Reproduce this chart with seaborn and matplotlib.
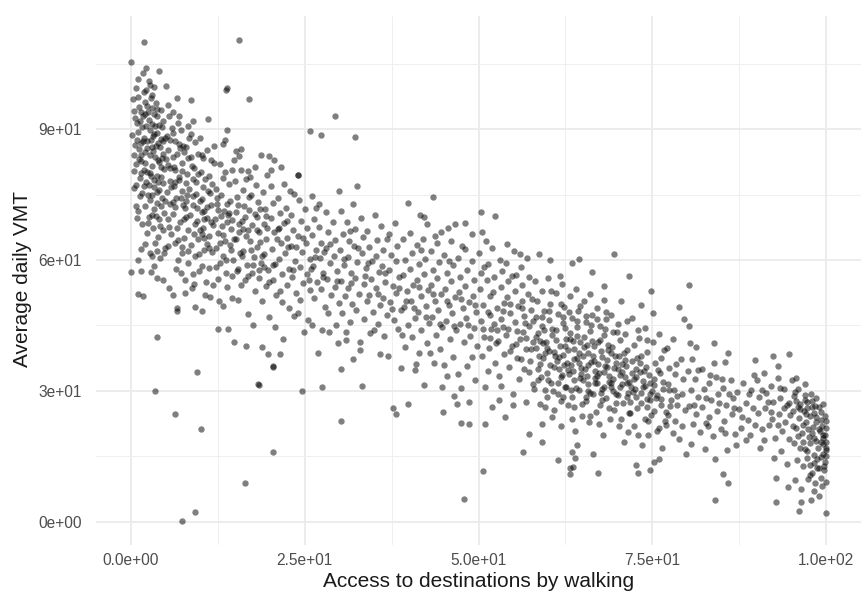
import matplotlib
matplotlib.use("Agg")
import matplotlib.pyplot as plt
import seaborn as sns
import pandas as pd

# ---- data: (access to destinations by walking, average daily VMT) ----
pts_x00_05 = [
(0.0,105.3),(1.9,109.9),(0.3,96.8),(0.5,94.1),(0.6,92.5),(0.2,88.7),(0.7,99.3),(0.8,77.2),(0.5,76.4),(0.1,57.2),
(0.6,86.3),(1.0,101.5),(1.1,97.4),(1.2,95.0),(1.3,91.8),(1.1,89.4),(1.4,86.7),(1.2,83.2),(1.5,79.9),(1.3,74.6),
(1.0,71.3),(1.6,68.2),(1.4,62.5),(1.8,51.8),(1.7,102.9),(1.9,98.6),(2.0,96.1),(2.1,93.4),(2.2,90.7),(1.9,88.0),
(2.3,85.6),(2.0,82.3),(2.4,80.1),(2.2,77.8),(2.5,75.0),(2.1,72.4),(2.6,69.8),(2.3,66.1),(2.7,61.7),(2.9,57.2),
(2.8,100.2),(2.9,97.2),(3.0,94.8),(3.1,91.1),(2.9,87.5),(3.2,84.9),(3.0,81.6),(3.3,78.4),(3.1,74.9),(3.4,71.6),
(3.2,67.3),(3.5,63.9),(3.3,58.6),(3.6,96.0),(3.7,92.9),(3.8,89.2),(3.6,86.1),(3.9,83.0),(3.7,79.3),(4.0,76.1),
(3.8,73.0),(4.1,69.5),(3.9,65.2),(4.2,60.4),(3.7,42.4),(3.5,29.9),(4.4,94.3),(4.5,90.5),(4.3,87.7),(4.6,84.4),
(4.4,81.2),(4.7,77.6),(4.5,74.3),(4.8,70.8),(4.6,66.9),(4.9,62.7),(4.6,55.3),(0.7,82.0),(1.5,84.1),(2.4,87.3),
(3.4,88.8),(4.2,85.9),(1.8,93.0),(2.6,92.1),(3.5,83.6),(4.9,88.0),(0.4,80.5),(1.6,75.3),(2.8,73.8),(3.9,77.9),
(4.8,80.9),(2.2,104.0),(2.6,101.0),(3.3,99.6),(4.1,103.3),(1.3,78.8),(2.9,79.2),(3.6,70.1),(4.3,72.4),(2.0,63.6),
(3.0,60.9),(3.8,62.0),(1.1,60.0),(2.7,84.0),(3.8,94.6),(4.6,91.9),(1.0,52.1),(1.4,57.5),(0.9,69.7),(0.8,72.3),
(2.5,68.5),(4.8,61.6),(3.8,55.9),(1.6,90.4),(2.5,94.0),(3.2,88.3),(2.1,84.7),(4.0,91.0),(1.4,82.6),(3.4,76.7),
(2.7,79.9),(4.5,83.3),(1.9,77.0),(0.9,87.6),(3.1,85.8),
]
pts_x05_12 = [
(5.1,99.9),(6.7,97.1),(8.6,96.7),(5.5,92.9),(6.8,91.4),(8.3,90.6),(8.7,88.9),(11.1,92.2),(10.4,83.4),(11.6,83.0),
(11.9,82.3),(10.2,84.1),(11.9,86.2),(5.2,88.4),(5.4,85.1),(5.3,81.7),(5.6,78.2),(5.2,75.6),(5.7,72.9),(5.4,69.4),
(5.8,66.0),(5.5,53.6),(6.0,52.0),(6.6,49.0),(6.7,48.3),(7.2,57.0),(7.8,52.4),(8.8,53.5),(9.3,49.2),(10.3,48.4),
(10.7,52.0),(6.1,94.0),(6.3,87.2),(6.0,83.5),(6.4,80.6),(6.2,77.0),(6.5,74.1),(6.1,70.5),(6.6,67.3),(6.3,63.8),
(6.8,59.9),(7.0,93.1),(7.2,89.8),(7.1,85.7),(7.4,82.2),(7.0,79.0),(7.3,75.7),(7.5,72.6),(7.1,68.7),(7.6,65.1),
(7.3,61.6),(7.8,55.4),(8.0,86.0),(8.2,83.4),(8.1,79.8),(8.4,76.3),(8.0,73.5),(8.5,70.2),(8.2,66.9),(8.6,63.4),
(8.3,59.2),(8.9,56.8),(9.0,91.8),(9.2,87.1),(9.1,81.0),(9.4,77.9),(9.0,74.7),(9.5,71.9),(9.2,68.3),(9.6,64.7),
(9.3,60.8),(9.8,57.5),(10.0,88.0),(10.1,80.2),(10.4,76.8),(10.0,73.6),(10.5,69.5),(10.2,66.0),(10.6,62.3),(10.3,58.7),
(10.8,55.0),(11.0,85.3),(11.2,79.2),(11.4,75.4),(11.0,72.1),(11.5,68.8),(11.2,65.6),(11.7,61.9),(11.3,58.1),(11.8,54.2),
(5.9,90.2),(6.9,86.5),(7.7,84.8),(8.8,81.6),(9.7,84.3),(10.7,78.5),(11.6,72.6),(5.8,76.8),(7.9,69.9),(9.9,66.8),
(10.9,63.7),(7.4,63.0),(6.5,58.0),(9.1,54.4),(11.4,51.6),(5.3,63.2),(8.4,87.9),(10.6,71.2),(5.6,81.0),(6.4,77.8),
(7.2,74.3),(8.9,78.6),(9.5,69.0),(10.4,67.4),(6.0,73.2),(7.8,71.8),
]
pts_outliers = [
(6.4,24.7),(7.3,0.2),(9.2,2.3),(10.1,21.2),(9.5,34.4),(16.4,8.9),(20.5,15.9),(18.3,31.5),(18.5,31.3),(24.6,30.0),
(27.5,31.0),(30.2,23.1),(20.5,35.4),(30.2,35.0),(13.7,99.0),(13.9,99.3),(17.0,96.9),(29.4,92.9),(25.8,89.5),(27.3,88.6),
(32.2,88.1),(15.5,110.4),(30.0,75.7),(24.0,79.4),(32.5,77.0),(43.5,74.4),(39.8,73.0),
]
pts_x12_20 = [
(13.2,86.6),(13.5,87.6),(13.8,89.9),(15.2,84.9),(15.9,85.4),(15.6,83.8),(18.7,84.1),(19.9,83.8),(15.9,80.7),(16.9,80.5),
(13.5,80.1),(14.5,80.7),(13.3,78.8),(12.6,44.1),(14.0,44.3),(13.3,49.4),(14.6,51.4),(15.4,50.9),(14.9,41.1),(16.6,40.3),
(18.8,40.1),(19.8,38.4),(12.2,76.3),(12.4,72.8),(12.1,69.5),(12.5,66.2),(12.3,62.7),(12.8,59.3),(12.6,55.7),(13.0,75.0),
(13.4,71.2),(13.1,67.9),(13.6,64.4),(13.2,60.9),(13.7,57.1),(13.9,53.8),(14.1,77.4),(14.3,73.6),(14.0,70.3),(14.4,67.0),
(14.2,63.4),(14.7,60.0),(14.5,56.3),(15.0,78.1),(15.3,74.5),(15.1,71.1),(15.5,68.2),(15.2,64.7),(15.7,61.5),(15.4,58.0),
(15.8,54.2),(16.1,76.0),(16.3,72.3),(16.0,69.0),(16.5,65.6),(16.2,62.1),(16.7,58.8),(16.4,55.5),(16.8,47.6),(17.1,79.0),
(17.3,74.9),(17.0,71.5),(17.5,68.0),(17.2,64.3),(17.7,60.6),(17.4,57.0),(17.9,52.8),(18.0,77.2),(18.3,73.3),(18.1,69.9),
(18.5,66.5),(18.2,62.9),(18.7,59.4),(18.4,55.8),(18.9,50.5),(19.0,75.6),(19.3,71.7),(19.1,68.3),(19.5,64.8),(19.2,61.4),
(19.7,57.7),(19.4,54.1),(19.9,46.9),(12.9,82.1),(14.8,82.9),(16.6,78.5),(17.8,81.3),(19.6,79.5),(13.8,68.6),(16.9,66.8),
(18.6,64.2),(12.7,50.7),(17.6,45.2),
]
pts_x00_20_extra = [
(0.9,91.3),(1.7,87.2),(2.3,95.4),(2.8,89.9),(3.4,93.5),(3.9,86.8),(4.4,79.0),(5.0,83.1),(5.7,87.6),(6.2,81.3),
(6.9,78.4),(7.5,86.1),(8.1,74.9),(8.9,72.5),(9.6,79.6),(10.3,70.9),(11.1,75.8),(11.8,68.1),(12.5,71.4),(13.3,65.7),
(14.1,70.8),(14.8,64.9),(15.6,66.3),(16.4,69.8),(17.3,62.4),(18.1,66.9),(18.9,61.0),(19.6,67.3),(1.2,85.5),(1.9,80.7),
(2.6,77.1),(3.1,70.3),(3.7,75.6),(4.2,67.8),(4.9,73.6),(5.5,67.5),(6.3,72.2),(6.8,64.6),(7.6,69.4),(8.3,62.0),
(9.1,66.0),(9.8,61.3),(10.6,65.1),(11.3,62.8),(12.2,58.3),(12.9,63.9),(13.7,60.1),(14.4,62.2),(15.3,57.4),(16.0,60.8),
(16.8,56.4),(17.6,58.9),(18.4,57.7),(19.2,58.3),(19.9,55.0),(0.5,84.0),(1.5,93.9),(2.2,99.0),(3.0,97.8),(3.5,90.7),
(4.0,82.5),(4.7,87.3),(5.4,95.6),(6.1,89.1),(6.6,84.2),(7.3,80.5),(8.0,77.7),(8.7,83.7),(9.4,75.2),(10.2,74.0),
(11.0,69.6),(11.7,77.3),(12.4,74.3),(13.0,70.0),(13.9,72.9),(14.6,69.2),(15.4,72.7),(16.2,67.0),(17.0,74.4),(17.8,70.5),
(18.6,71.7),(19.4,70.0),
]
pts_x20_30 = [
(20.6,83.0),(21.6,81.3),(20.2,80.7),(24.0,79.4),(23.5,75.2),(21.5,38.4),(20.5,35.7),(20.1,76.9),(20.4,73.0),(20.2,69.6),
(20.6,66.3),(20.3,62.6),(20.8,59.1),(20.5,55.4),(20.9,51.9),(20.7,44.6),(21.1,74.2),(21.4,70.7),(21.2,67.2),(21.6,63.9),
(21.3,60.3),(21.8,56.8),(21.5,53.0),(21.9,42.0),(22.0,77.5),(22.3,72.0),(22.1,68.5),(22.5,65.0),(22.2,61.5),(22.7,58.0),
(22.4,54.3),(22.8,49.0),(23.0,70.4),(23.3,66.8),(23.1,63.3),(23.6,59.8),(23.2,56.2),(23.8,52.4),(23.4,47.1),(24.2,73.8),
(24.5,68.9),(24.1,65.4),(24.6,61.9),(24.3,58.4),(24.8,54.7),(24.4,50.8),(24.9,43.5),(25.1,71.6),(25.4,67.4),(25.2,63.9),
(25.7,60.3),(25.3,56.9),(25.8,53.1),(25.5,46.3),(26.0,74.6),(26.3,69.3),(26.1,65.8),(26.6,62.2),(26.2,58.7),(26.8,55.0),
(26.4,51.2),(26.9,38.8),(27.1,67.6),(27.4,64.0),(27.2,60.5),(27.7,57.0),(27.3,53.3),(27.9,49.3),(27.5,44.0),(28.0,71.0),
(28.3,66.3),(28.1,62.8),(28.6,59.2),(28.2,55.7),(28.8,52.0),(28.4,47.8),(29.1,68.8),(29.4,64.6),(29.2,61.0),(29.7,57.5),
(29.3,53.9),(29.9,50.1),(29.5,45.2),(29.8,40.9),(21.0,64.8),(23.7,63.0),(25.9,58.0),(27.8,61.8),(22.9,75.7),(26.7,71.9),
]
pts_x30_40 = [
(30.2,71.3),(30.5,66.0),(30.1,62.4),(30.6,58.9),(30.3,55.2),(30.8,51.7),(30.4,47.9),(30.9,43.6),(31.1,68.7),(31.4,64.3),
(31.2,60.7),(31.7,57.1),(31.3,53.6),(31.8,49.9),(31.5,45.8),(31.9,37.2),(32.0,72.9),(32.3,67.1),(32.1,63.1),(32.6,59.5),
(32.2,55.9),(32.8,52.3),(32.4,48.5),(32.9,41.1),(33.2,31.1),(33.1,69.6),(33.4,65.3),(33.3,61.7),(33.8,58.1),(33.5,54.5),
(33.9,50.7),(33.6,46.4),(34.0,66.6),(34.3,62.9),(34.1,59.3),(34.6,55.7),(34.2,52.0),(34.8,48.1),(34.4,43.2),(35.1,70.2),
(35.4,64.5),(35.2,60.8),(35.7,57.2),(35.3,53.5),(35.9,49.6),(35.5,45.3),(35.8,38.5),(36.0,67.8),(36.3,62.2),(36.1,58.6),
(36.6,55.0),(36.2,51.3),(36.8,47.4),(36.4,42.6),(37.1,65.9),(37.4,61.2),(37.2,57.6),(37.7,54.0),(37.3,50.3),(37.9,46.3),
(37.7,26.0),(38.1,24.8),(38.0,68.4),(38.3,63.3),(38.1,59.7),(38.6,56.1),(38.2,52.4),(38.8,48.5),(38.4,44.1),(38.9,35.3),
(39.1,64.8),(39.4,60.1),(39.2,56.5),(39.7,52.9),(39.3,49.2),(39.8,45.2),(39.8,27.1),(39.5,40.0),
]
pts_x40_50 = [
(42.1,69.8),(42.6,68.2),(46.6,68.3),(45.6,67.3),(44.6,66.4),(48.1,68.4),(44.9,25.2),(46.9,27.1),(48.7,27.5),(47.5,22.7),
(48.7,22.4),(47.9,5.3),(40.1,66.1),(40.4,61.5),(40.2,57.9),(40.6,54.3),(40.3,50.6),(40.8,46.7),(40.5,42.3),(40.9,34.8),
(41.1,63.4),(41.4,59.0),(41.2,55.4),(41.7,51.8),(41.3,48.1),(41.8,44.0),(41.5,38.6),(42.0,64.7),(42.3,60.3),(42.1,56.7),
(42.8,53.1),(42.4,49.4),(42.9,45.5),(42.6,40.9),(42.2,31.4),(43.1,62.0),(43.4,57.8),(43.2,54.2),(43.7,50.6),(43.3,46.9),
(43.9,42.7),(43.6,36.4),(44.0,63.9),(44.3,59.5),(44.1,55.9),(44.6,52.3),(44.2,48.6),(44.8,44.6),(44.4,39.5),(45.1,61.2),
(45.4,57.0),(45.2,53.4),(45.7,49.8),(45.3,46.1),(45.9,42.0),(45.5,33.5),(46.0,64.3),(46.3,58.8),(46.1,55.2),(46.6,51.6),
(46.2,47.9),(46.8,43.9),(46.4,37.8),(47.1,60.5),(47.4,56.2),(47.2,52.6),(47.7,49.0),(47.3,45.3),(47.9,41.2),(47.5,30.6),
(48.0,62.6),(48.3,57.6),(48.1,54.0),(48.6,50.4),(48.2,46.7),(48.8,42.6),(48.4,35.6),(49.1,59.7),(49.4,55.3),(49.2,51.7),
(49.7,48.1),(49.3,44.4),(49.8,40.2),(49.5,32.4),(41.6,70.4),(43.8,65.5),(47.6,63.1),(49.0,66.0),(44.7,31.0),(46.5,28.8),
]
pts_x20_55_extra = [
(20.4,58.8),(21.3,67.4),(22.6,62.9),(23.3,57.6),(24.7,65.1),(25.6,55.4),(26.5,60.7),(27.6,56.2),(28.7,63.7),(29.6,55.1),
(30.7,60.2),(31.6,54.8),(32.7,62.8),(33.7,56.3),(34.7,59.8),(35.6,52.1),(36.5,57.0),(37.5,48.8),(38.5,53.6),(39.6,50.5),
(40.7,48.9),(41.5,53.7),(42.5,47.0),(43.5,52.2),(44.5,45.4),(45.5,50.7),(46.5,44.8),(47.5,51.1),(48.5,45.1),(49.5,49.6),
(50.6,44.3),(51.6,47.5),(52.5,40.9),(53.5,44.7),(54.6,39.2),(21.7,50.4),(24.0,47.8),(26.0,45.0),(28.5,43.6),(31.0,41.7),
(33.0,39.3),(35.0,43.9),(37.0,38.1),(39.0,42.8),(41.0,36.2),(43.0,38.8),(45.0,35.9),(47.0,33.8),(49.0,37.7),(51.3,34.6),
(53.3,31.2),(22.5,68.9),(27.0,72.9),(31.5,66.6),(36.8,64.9),(41.8,62.2),(45.8,59.7),(50.8,58.4),(54.8,56.3),
]
pts_x50_58 = [
(50.3,71.0),(52.4,70.0),(54.1,63.7),(56.0,61.3),(50.7,11.7),(56.4,16.1),(57.2,20.2),(50.1,61.7),(50.4,57.0),(50.2,53.4),
(50.6,49.8),(50.3,46.1),(50.8,42.3),(50.5,38.0),(50.9,30.9),(51.1,64.3),(51.4,59.0),(51.2,55.4),(51.7,51.8),(51.3,48.1),
(51.8,44.2),(51.5,39.9),(51.9,26.2),(52.0,62.8),(52.3,56.2),(52.1,52.6),(52.6,49.0),(52.2,45.3),(52.8,41.5),(52.4,36.3),
(53.1,60.0),(53.4,57.4),(53.2,53.8),(53.7,50.2),(53.3,46.5),(53.9,42.7),(53.6,38.5),(53.8,24.0),(54.0,59.2),(54.3,55.1),
(54.1,51.5),(54.6,47.9),(54.2,44.2),(54.8,40.4),(54.4,35.4),(54.9,29.4),(55.1,62.0),(55.4,56.6),(55.2,53.0),(55.7,49.4),
(55.3,45.7),(55.9,41.9),(55.5,37.6),(55.8,32.8),(56.1,58.5),(56.3,54.3),(56.2,50.7),(56.6,47.1),(56.4,43.4),(56.8,39.6),
(56.5,35.1),(56.9,27.5),(57.0,60.4),(57.3,56.0),(57.1,52.2),(57.6,48.6),(57.2,44.9),(57.8,41.1),(57.4,36.9),(57.9,31.6),
(50.5,66.5),(51.6,42.1),(52.7,44.0),(53.5,48.3),(54.5,50.0),(55.6,43.8),(56.7,45.6),(57.5,39.5),(52.9,33.5),(55.0,26.8),
(51.0,22.5),(53.0,28.0),
]
pts_x58_70 = [
(58.7,61.4),(60.3,60.1),(63.5,59.4),(64.5,60.3),(66.3,57.3),(61.7,56.3),(68.0,54.0),(69.5,61.4),(59.2,18.3),(61.5,14.2),
(63.1,10.9),(63.2,12.4),(63.6,12.6),(67.2,11.1),(63.4,16.0),(63.9,14.7),(64.1,17.6),(66.5,15.5),(59.2,22.4),
(58.1,55.2),(58.4,50.7),(58.2,46.9),(58.6,43.3),(58.3,39.8),(58.8,36.2),(58.5,32.5),(58.9,27.1),(59.1,53.0),(59.4,48.4),
(59.2,44.8),(59.7,41.2),(59.3,37.6),(59.8,34.0),(59.5,30.2),(60.0,55.8),(60.3,50.0),(60.1,46.3),(60.6,42.7),(60.2,39.1),
(60.8,35.5),(60.4,31.7),(60.9,25.6),(61.1,52.4),(61.4,47.6),(61.2,44.0),(61.7,40.4),(61.3,36.8),(61.8,33.2),(61.5,29.3),
(61.9,22.0),(62.0,54.6),(62.3,49.2),(62.1,45.5),(62.6,41.9),(62.2,38.3),(62.8,34.7),(62.4,31.0),(62.9,26.7),(63.1,51.7),
(63.4,46.8),(63.2,43.2),(63.7,39.6),(63.3,36.0),(63.8,32.4),(63.5,28.5),(63.9,20.8),(64.0,53.3),(64.3,48.3),(64.1,44.7),
(64.6,41.1),(64.2,37.5),(64.8,33.9),(64.4,30.2),(64.9,24.3),(65.1,50.5),(65.4,45.9),(65.2,42.3),(65.7,38.7),(65.3,35.1),
(65.8,31.5),(65.5,27.6),(65.9,22.9),(66.0,52.1),(66.3,47.4),(66.1,43.8),(66.6,40.2),(66.2,36.6),(66.8,33.0),(66.4,29.2),
(66.9,25.1),(67.1,49.1),(67.4,44.9),(67.2,41.3),(67.7,37.7),(67.3,34.1),(67.8,30.5),(67.5,26.8),(67.9,20.0),(68.0,50.9),
(68.3,46.5),(68.1,42.9),(68.6,39.3),(68.2,35.7),(68.8,32.1),(68.4,28.4),(68.9,23.6),(69.1,47.3),(69.4,43.6),(69.2,40.0),
(69.7,36.4),(69.3,32.8),(69.8,29.2),(69.5,25.7),(58.9,41.5),(59.6,38.7),(60.5,44.1),(61.0,38.0),(61.6,35.0),(62.5,40.3),
(62.7,36.5),(63.0,33.8),(63.6,41.4),(64.4,38.8),(64.7,35.2),(65.0,32.6),(65.6,40.5),(66.5,38.0),(66.7,34.5),(67.0,31.8),
(67.6,39.2),(68.5,37.0),(68.7,33.5),(69.0,30.8),(69.6,38.1),(60.2,48.3),(62.2,47.0),(64.2,46.0),(66.2,45.0),(68.2,44.1),
(59.8,28.6),(61.8,27.8),(63.8,26.2),(65.8,29.9),(67.8,28.0),(69.8,27.3),
]
pts_x55_78_extra = [
(55.4,40.7),(56.1,37.3),(56.8,42.2),(57.3,34.3),(57.9,46.0),(58.3,42.4),(58.7,37.9),(59.0,33.1),(59.4,44.0),(59.9,39.8),
(60.3,35.9),(60.7,29.9),(61.2,41.7),(61.6,37.8),(62.0,33.6),(62.4,44.4),(62.9,39.3),(63.3,30.3),(63.8,37.2),(64.2,42.5),
(64.6,33.0),(65.0,38.1),(65.4,28.7),(65.8,35.9),(66.3,41.4),(66.8,31.9),(67.2,36.2),(67.6,29.5),(68.1,34.4),(68.6,40.6),
(69.1,31.9),(69.5,35.3),(70.0,29.0),(70.4,33.7),(70.9,38.7),(71.3,31.9),(71.8,27.4),(72.3,32.7),(72.8,37.6),(73.3,29.6),
(73.8,34.5),(74.3,26.4),(74.7,28.0),(75.3,31.3),(75.8,34.8),(76.3,28.1),(76.9,25.2),(77.4,30.1),(58.0,30.4),(59.5,26.2),
(60.6,24.0),(62.1,28.6),(63.4,23.6),(64.9,27.1),(66.0,24.2),(67.3,22.5),(68.8,26.1),(70.2,21.9),(71.6,25.0),(73.0,19.9),
(74.4,23.0),(75.6,20.7),(77.0,22.1),(56.2,49.0),(57.7,51.0),(59.1,47.0),(60.4,53.0),(61.9,49.9),(63.0,48.1),(64.6,49.5),
(65.5,47.2),(67.0,46.4),(68.4,48.0),(69.9,43.4),(71.4,46.0),(72.9,44.0),(74.2,41.6),(76.7,39.4),(78.4,36.2),
(58.5,35.0),(59.3,40.9),(60.0,32.4),(60.9,38.9),(61.4,31.8),(62.3,36.0),(62.6,30.9),(63.1,42.0),(63.6,34.6),(64.0,30.6),
(64.5,36.4),(65.1,40.0),(65.6,33.4),(66.1,29.5),(66.6,36.9),(67.1,33.5),(67.5,41.7),(68.0,31.0),(68.5,35.5),(69.0,38.6),
(69.4,29.9),(70.1,35.0),(70.6,31.5),(71.1,37.0),(71.5,29.6),(72.1,34.2),(72.6,28.7),(73.2,36.4),(73.9,31.2),(74.6,29.3),
]
pts_x70_80 = [
(71.7,56.4),(74.8,52.9),(70.5,50.6),(73.3,49.8),(78.8,49.2),(79.5,46.4),(75.1,47.9),(72.9,11.1),(72.7,13.0),(74.6,11.8),
(75.3,13.6),(76.0,14.3),(70.1,45.3),(70.4,41.6),(70.2,38.0),(70.6,34.4),(70.3,30.8),(70.8,27.2),(70.5,23.5),(70.9,18.4),
(71.1,43.0),(71.4,39.3),(71.2,35.7),(71.7,32.1),(71.3,28.5),(71.8,24.9),(71.5,20.6),(72.0,46.7),(72.3,40.5),(72.1,36.9),
(72.6,33.3),(72.2,29.7),(72.8,26.1),(72.4,22.0),(73.1,42.2),(73.4,38.0),(73.2,34.4),(73.7,30.8),(73.3,27.2),(73.9,23.6),
(73.5,17.6),(74.0,44.4),(74.3,39.0),(74.1,35.4),(74.6,31.8),(74.2,28.2),(74.8,24.5),(74.4,19.8),(75.1,41.3),(75.4,36.3),
(75.2,32.7),(75.7,29.1),(75.3,25.5),(75.9,21.6),(76.0,43.1),(76.3,37.6),(76.1,34.0),(76.6,30.4),(76.2,26.8),(76.8,23.0),
(76.4,17.0),(77.1,39.8),(77.4,35.2),(77.2,31.6),(77.7,28.0),(77.3,24.4),(77.9,20.4),(78.0,41.8),(78.3,33.9),(78.1,30.3),
(78.6,26.7),(78.2,23.1),(78.8,18.9),(79.1,37.3),(79.4,32.8),(79.2,29.2),(79.7,25.6),(79.3,22.0),(79.8,15.6),(70.7,36.2),
(71.9,31.0),(72.7,35.0),(73.6,32.2),(74.5,33.6),(75.5,28.4),(76.5,32.0),(77.5,26.5),(78.5,28.9),(71.0,33.2),(72.5,30.5),
(74.9,30.0),
]
pts_x80_90 = [
(80.2,54.3),(80.3,44.9),(83.9,41.0),(81.3,40.1),(80.4,40.9),(85.9,38.6),(89.8,37.0),(85.4,36.6),(83.8,36.3),(84.0,5.0),
(85.9,9.0),(85.1,10.9),(84.0,14.3),(80.1,34.5),(80.6,30.2),(80.3,26.6),(80.8,22.4),(80.5,17.9),(81.2,32.8),(81.5,28.6),
(81.3,24.8),(81.8,20.5),(82.1,35.0),(82.4,30.4),(82.2,26.2),(82.7,22.6),(82.5,16.8),(83.1,31.7),(83.4,27.9),(83.2,24.0),
(83.7,19.6),(84.2,33.2),(84.5,29.3),(84.3,25.5),(84.8,21.2),(85.2,30.7),(85.6,26.8),(85.3,23.0),(85.8,16.4),(86.3,32.5),
(86.6,28.4),(86.4,24.6),(86.9,20.1),(87.2,29.7),(87.5,25.9),(87.8,21.5),(88.1,31.9),(88.4,27.2),(88.7,23.4),(88.5,18.7),
(89.2,30.1),(89.5,26.0),(89.8,22.1),(80.7,37.3),(81.6,34.8),(82.7,28.4),(83.3,33.7),(84.6,27.2),(85.0,32.8),(86.0,29.2),
(86.8,26.1),(87.9,24.0),(88.9,29.4),(89.6,33.6),(81.0,26.8),(83.0,22.0),(85.5,20.3),(87.0,17.6),(89.0,19.9),
]
pts_x90_95 = [
(94.6,38.5),(92.3,38.0),(93.0,35.7),(92.8,4.6),(92.8,10.1),(94.5,7.9),(90.1,32.4),(90.4,28.7),(90.2,25.0),(90.7,21.3),
(90.5,16.9),(91.1,34.1),(91.4,29.6),(91.2,26.0),(91.7,22.2),(92.1,31.2),(92.4,27.4),(92.2,23.6),(92.7,19.3),(92.5,14.6),
(93.1,32.9),(93.4,28.3),(93.2,24.6),(93.7,20.8),(93.5,16.2),(94.0,30.5),(94.3,26.8),(94.1,22.9),(94.7,19.0),(94.4,13.2),
(90.8,30.2),(91.6,27.4),(92.0,25.2),(93.3,30.6),(93.9,26.0),(91.0,18.8),(93.0,22.3),(94.8,24.5),(94.6,27.3),
]
pts_x95_100 = [
(96.1,2.4),(99.9,2.1),(96.4,4.6),(97.8,5.0),(98.9,6.0),(98.2,7.1),(99.9,9.2),(95.1,32.6),(95.3,28.9),(95.2,25.3),
(95.6,21.6),(95.4,18.0),(95.8,14.2),(95.5,9.6),(96.0,30.4),(96.2,27.1),(96.1,23.9),(96.5,20.4),(96.3,16.9),(96.7,12.8),
(96.4,7.5),(97.0,29.0),(97.2,26.0),(97.1,22.8),(97.5,19.5),(97.3,16.2),(97.7,13.0),(97.4,9.9),(98.0,27.8),(98.2,25.0),
(98.1,21.7),(98.5,18.6),(98.3,15.4),(98.7,12.3),(98.4,9.0),(99.0,26.3),(99.2,23.4),(99.1,20.7),(99.5,17.8),(99.3,14.9),
(99.7,11.8),(99.4,8.3),(99.8,24.2),(99.9,21.5),(99.6,19.1),(99.9,16.4),(99.8,13.6),(100.0,18.4),(100.0,15.0),(99.9,23.0),
(97.6,24.2),(98.6,22.8),(99.3,25.1),(96.8,25.3),(97.9,20.3),(98.8,16.9),(99.5,20.0),(96.6,18.3),(97.2,14.6),(98.0,11.1),
(95.7,33.0),(96.9,31.5),(95.9,26.2),(97.3,27.4),(98.4,26.6),(99.6,27.0),(95.2,22.0),(95.7,27.8),(96.0,19.6),(96.3,25.8),
(96.6,22.2),(96.9,16.6),(97.1,24.7),(97.4,21.2),(97.7,18.1),(97.9,26.3),(98.2,19.2),(98.5,24.1),(98.7,14.5),(98.9,21.3),
(99.2,18.2),(99.4,22.0),(99.6,15.6),(99.8,19.9),(100.0,17.0),(99.7,12.9),(99.0,12.4),(98.3,13.5),(97.6,10.8),(99.2,10.1),
(96.9,27.9),(97.8,29.3),(98.6,28.3),(95.5,29.8),
]

x_ticks = [0, 25, 50, 75, 100]
x_tick_labels = ["0.0e+00", "2.5e+01", "5.0e+01", "7.5e+01", "1.0e+02"]
y_ticks = [0, 30, 60, 90]
y_tick_labels = ["0e+00", "3e+01", "6e+01", "9e+01"]
x_title = "Access to destinations by walking"
y_title = "Average daily VMT"

all_pts = (pts_x00_05 + pts_x05_12 + pts_outliers + pts_x12_20 + pts_x00_20_extra + pts_x20_30
           + pts_x30_40 + pts_x40_50 + pts_x20_55_extra + pts_x50_58 + pts_x58_70 + pts_x55_78_extra
           + pts_x70_80 + pts_x80_90 + pts_x90_95 + pts_x95_100)
df = pd.DataFrame(all_pts, columns=["walk", "vmt"])

# ---- style ----
sns.set_theme(style="white")
plt.rcParams["font.family"] = ["Liberation Sans", "DejaVu Sans"]

W, H = 867, 614
fig = plt.figure(figsize=(W / 100, H / 100), dpi=100)
left, right, top, bottom = 96, 861, 16, 545
ax = fig.add_axes([left / W, 1 - bottom / H, (right - left) / W, (bottom - top) / H])

sns.scatterplot(data=df, x="walk", y="vmt", color="black", alpha=0.5, s=21,
                linewidth=0, ax=ax, zorder=3)

# ggplot-like 5% expansion
xr = df["walk"].max() - df["walk"].min()
yr = df["vmt"].max() - df["vmt"].min()
ax.set_xlim(df["walk"].min() - 0.05 * xr, df["walk"].max() + 0.05 * xr)
ax.set_ylim(df["vmt"].min() - 0.05 * yr, df["vmt"].max() + 0.05 * yr)

ax.set_xticks(x_ticks)
ax.set_xticklabels(x_tick_labels)
ax.set_yticks(y_ticks)
ax.set_yticklabels(y_tick_labels)
ax.set_xticks([12.5, 37.5, 62.5, 87.5], minor=True)
ax.set_yticks([15, 45, 75, 105], minor=True)

ax.grid(which="major", color="#EBEBEB", linewidth=1.3, zorder=0)
ax.grid(which="minor", color="#EFEFEF", linewidth=0.7, zorder=0)
ax.set_axisbelow(True)
for sp in ax.spines.values():
    sp.set_visible(False)

ax.tick_params(axis="both", which="both", length=0)
ax.tick_params(axis="x", which="major", pad=6, labelsize=11.2, labelcolor="#4D4D4D")
ax.tick_params(axis="y", which="major", pad=10, labelsize=11.2, labelcolor="#4D4D4D")

ax.set_xlabel(x_title, fontsize=15, color="#1A1A1A")
ax.set_ylabel(y_title, fontsize=15, color="#1A1A1A", va="center")
ax.xaxis.set_label_coords(0.5, (bottom - 572) / (bottom - top))
ax.yaxis.set_label_coords((23 - left) / (right - left), (bottom - 279) / (bottom - top))

fig.savefig("out.png", dpi=100, facecolor="white")
